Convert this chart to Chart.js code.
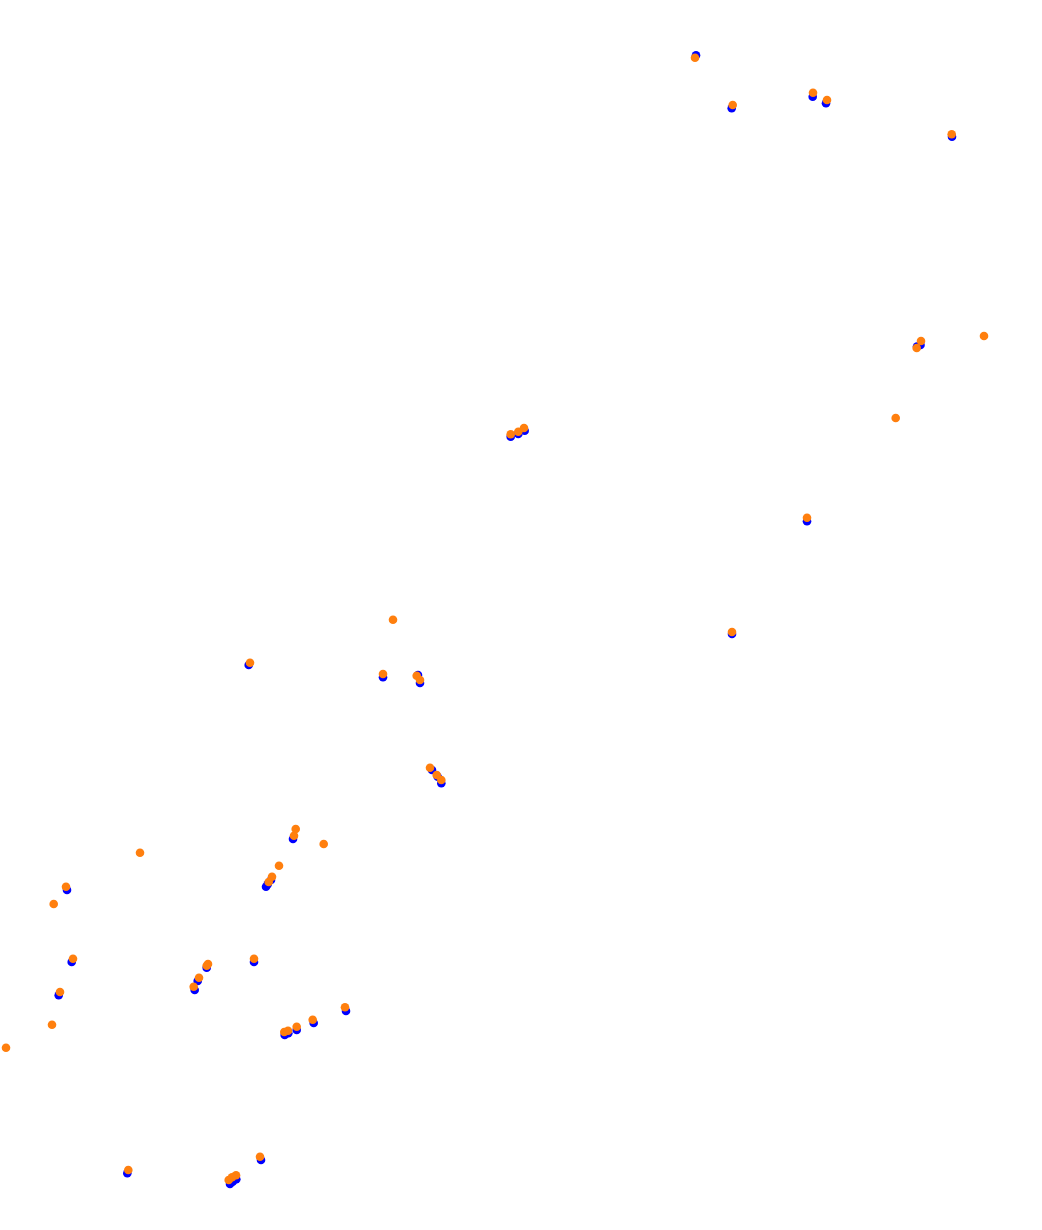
<!DOCTYPE html>
<html>
<head>
<meta charset="utf-8">
<script src="https://cdn.jsdelivr.net/npm/chart.js@4.4.0/dist/chart.umd.min.js"></script>
<style>
    html, body { margin: 0; padding: 0; background: #fff; }
    #wrap { width: 1042px; height: 1230px; }
</style>
</head>
<body>
<div id="wrap"><canvas id="trackChart" width="1042" height="1230"></canvas></div>
<script>
// Reference track (blue) and estimated track (orange), plot units
const blueX = [696, 731.7, 812.7, 826, 952, 920.5, 917, 510.7, 518.3, 524.7, 807, 732,
    248.7, 383, 418, 420, 432, 437.7, 441.3, 293, 266, 267.7, 271, 67, 71.7, 254,
    206.7, 197.7, 194.7, 58.7, 346, 313.7, 296.7, 284.7, 288.3, 127.3, 261, 230, 232.7, 236.3];
const blueY = [55.3, 108.3, 96.7, 103.3, 136.7, 345, 346.5, 436.7, 434, 430.7, 521.3, 634,
    665, 677.3, 675, 683, 770, 776.7, 783.3, 839, 886.7, 884.3, 880, 890, 962, 962,
    967.7, 981, 990, 995.3, 1011, 1023, 1030, 1035, 1033.3, 1173.3, 1160, 1184, 1181.7, 1179.3];

const orangeX = [695, 732.7, 813, 827, 951.7, 921, 916.7, 984, 895.7, 510.7, 518.3, 524,
    807, 732, 250, 393, 383, 416.7, 420, 430, 436.7, 441.3, 295.7, 294, 323.7, 140,
    279, 272, 268.7, 66, 53.7, 73, 254, 208, 206.7, 199, 193.7, 60, 52, 6, 345,
    312.7, 296.7, 288, 284.3, 128.3, 260, 236, 232, 228.7];
const orangeY = [57.7, 105, 92.7, 100, 134.3, 341, 348, 336, 418, 434.3, 431.7, 428,
    517.7, 632, 662.7, 619.7, 674, 675.7, 680, 767.7, 775, 780, 829, 835.7, 844, 852.7,
    865.7, 876.7, 882, 886.7, 904, 958.7, 958.7, 964, 965.7, 977.7, 986.7, 992, 1024.7, 1047.7, 1007.3,
    1019.7, 1026.7, 1030.7, 1032, 1170, 1156.7, 1175.3, 1177.3, 1180];

function toPoints(xs, ys) {
    return xs.map((x, i) => ({ x: x, y: ys[i] }));
}

document.addEventListener('DOMContentLoaded', () => {
    const ctx = document.getElementById('trackChart').getContext('2d');
    new Chart(ctx, {
        type: 'scatter',
        data: {
            datasets: [
                {
                    label: 'reference',
                    data: toPoints(blueX, blueY),
                    backgroundColor: '#0000ff',
                    borderWidth: 0,
                    pointRadius: 4.3,
                    order: 2
                },
                {
                    label: 'estimate',
                    data: toPoints(orangeX, orangeY),
                    backgroundColor: '#ff7f0e',
                    borderWidth: 0,
                    pointRadius: 4.3,
                    order: 1
                }
            ]
        },
        options: {
            responsive: false,
            animation: false,
            clip: false,
            layout: { padding: 0, autoPadding: false },
            plugins: {
                legend: { display: false },
                tooltip: { enabled: false }
            },
            scales: {
                x: { type: 'linear', min: 0, max: 1042, display: false },
                y: { type: 'linear', min: 0, max: 1230, reverse: true, display: false }
            }
        }
    });
});
</script>
</body>
</html>
